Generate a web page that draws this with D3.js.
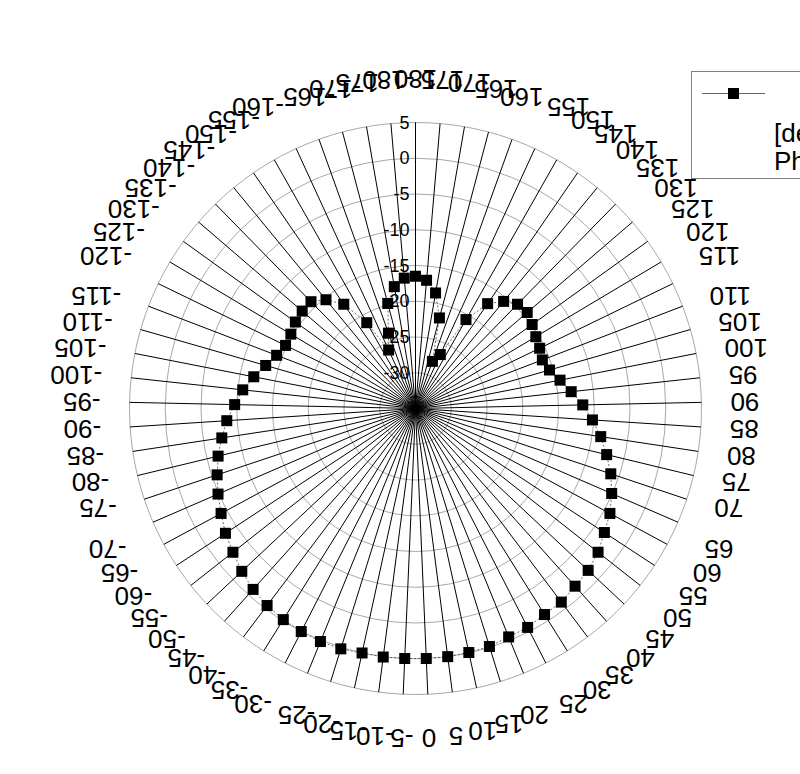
<!DOCTYPE html>
<html><head><meta charset="utf-8">
<script src="https://cdn.jsdelivr.net/npm/d3@7"></script>
<style>html,body{margin:0;padding:0;background:#fff;overflow:hidden}</style>
</head><body><svg id="c" width="800" height="774"></svg>
<script>
// Category labels (degrees), clockwise from the top
const categories = [180,175,170,165,160,155,150,145,140,135,130,125,120,115,110,105,100,95,90,85,80,75,70,65,60,55,50,45,40,35,30,25,20,15,10,5,0,-5,-10,-15,-20,-25,-30,-35,-40,-45,-50,-55,-60,-65,-70,-75,-80,-85,-90,-95,-100,-105,-110,-115,-120,-125,-130,-135,-140,-145,-150,-155,-160,-165,-170,-175,-180];
// Series values (dB), one per category
const values = [-16.5,-17.0,-18.6,-21.9,-28.0,-26.7,-20.7,-17.2,-15.6,-14.6,-14.4,-14.9,-15.4,-15.7,-16.0,-15.5,-14.4,-13.1,-11.6,-10.2,-8.8,-7.5,-6.2,-5.1,-4.1,-3.4,-2.5,-1.9,-1.6,-1.1,-1.0,-0.6,-0.5,-0.15,-0.07,0.0,0.0,0.0,0.05,0.0,0.2,0.2,0.05,-0.16,-0.5,-1.0,-1.7,-2.5,-3.2,-4.1,-4.9,-5.75,-6.6,-7.6,-8.55,-9.7,-10.7,-11.95,-13.2,-14.2,-14.8,-14.7,-14.3,-14.1,-14.1,-15.3,-17.3,-21.2,-26.0,-23.8,-19.8,-17.7,-16.7];
// Radial axis tick labels
const radialTicks = [5,0,-5,-10,-15,-20,-25,-30];
const radialDomain = [-35, 5];
const legendLines = ["[deg]", "Phi"];

const cx = 415.5, cy = 408.5, R = 286, RL = 315, MS = 11;
const FONT = "'Liberation Sans', Arial, sans-serif";
const svg = d3.select("#c");
const r = d3.scaleLinear().domain(radialDomain).range([0, R]);
const ang = d3.scaleLinear().domain([0, categories.length]).range([0, 2 * Math.PI]);
const g = svg.append("g").attr("transform", `translate(${cx},${cy})`);

// rings
g.append("g").selectAll("circle").data(radialTicks).join("circle")
  .attr("r", d => r(d)).attr("fill", "none").attr("stroke", "#a8a8a8").attr("stroke-width", 1);

// spokes
g.append("g").selectAll("line").data(categories).join("line")
  .attr("x1", 0).attr("y1", 0)
  .attr("x2", (d, i) => R * Math.sin(ang(i)))
  .attr("y2", (d, i) => -R * Math.cos(ang(i)))
  .attr("stroke", "#000").attr("stroke-width", 1);

// radial axis
g.append("line").attr("x1", 0).attr("y1", 0).attr("x2", 0).attr("y2", -R)
  .attr("stroke", "#000").attr("stroke-width", 1);
g.append("g").selectAll("text").data(radialTicks).join("text")
  .attr("x", -6).attr("y", d => -r(d)).attr("text-anchor", "end")
  .attr("dominant-baseline", "central").attr("font-family", FONT).attr("font-size", 18)
  .attr("fill", "#000").text(d => d);

// data line
const line = d3.lineRadial().angle((d, i) => ang(i)).radius(d => r(d)).curve(d3.curveLinearClosed);
g.append("path").attr("d", line(values)).attr("fill", "none")
  .attr("stroke", "#444").attr("stroke-width", 0.8).attr("stroke-dasharray", "2,2");

// markers
g.append("g").selectAll("rect").data(values).join("rect")
  .attr("x", (d, i) => r(d) * Math.sin(ang(i)) - MS / 2)
  .attr("y", (d, i) => -r(d) * Math.cos(ang(i)) - MS / 2)
  .attr("width", MS).attr("height", MS).attr("fill", "#000");

// category labels (upside-down text), anchored by 45-degree zone
const lg = g.append("g");
categories.forEach((c, i) => {
  const t = lg.append("text").attr("font-family", FONT).attr("font-size", 26).attr("fill", "#000").text(c);
  const bb = t.node().getBBox();
  const a = ang(i);
  const px = RL * Math.sin(a), py = -RL * Math.cos(a);
  const z = Math.round(a / (Math.PI / 4)) % 8;
  const sx = Math.round(Math.sin(z * Math.PI / 4));
  const sy = -Math.round(Math.cos(z * Math.PI / 4));
  const ccx = px + sx * bb.width / 2, ccy = py + sy * bb.height / 2;
  t.attr("transform", `translate(${ccx},${ccy}) rotate(180) translate(${-(bb.x + bb.width / 2)},${-(bb.y + bb.height / 2)})`);
});

// legend
const leg = svg.append("g");
leg.append("rect").attr("x", 691.5).attr("y", 71.5).attr("width", 200).attr("height", 107)
  .attr("fill", "#fff").attr("stroke", "#808080").attr("stroke-width", 1);
leg.append("line").attr("x1", 702).attr("x2", 765).attr("y1", 93.5).attr("y2", 93.5)
  .attr("stroke", "#666").attr("stroke-width", 1);
leg.append("rect").attr("x", 733.5 - MS / 2).attr("y", 93.5 - MS / 2).attr("width", MS).attr("height", MS).attr("fill", "#000");
leg.selectAll("text.l").data(legendLines).join("text").attr("class", "l")
  .attr("x", 774).attr("y", (d, i) => 142 + i * 28)
  .attr("font-family", FONT).attr("font-size", 26).attr("fill", "#000").text(d => d);
</script>
</body></html>
